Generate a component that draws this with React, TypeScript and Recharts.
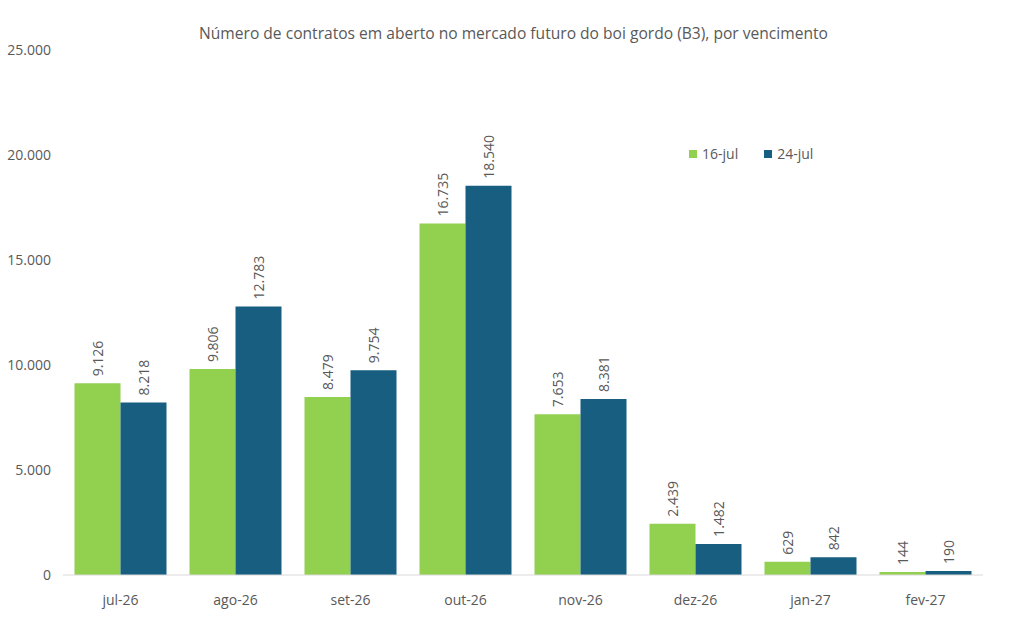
import { Bar, BarChart, LabelList, XAxis, YAxis } from "recharts";

const vencimentos = ["jul-26", "ago-26", "set-26", "out-26", "nov-26", "dez-26", "jan-27", "fev-27"];
const jul16 = [9126, 9806, 8479, 16735, 7653, 2439, 629, 144];
const jul24 = [8218, 12783, 9754, 18540, 8381, 1482, 842, 190];
const yTicks = [0, 5000, 10000, 15000, 20000, 25000];
const seriesNames = ["16-jul", "24-jul"];

const data = vencimentos.map((v, i) => ({ venc: v, a: jul16[i], b: jul24[i] }));

const GREEN = "#92d050";
const BLUE = "#175e80";
const TEXT = "#595959";
const FONT = "'Open Sans', 'Liberation Sans', sans-serif";

const fmt = (v: number) => String(Math.round(v)).replace(/\B(?=(\d{3})+(?!\d))/g, ".");

function VLabel(props: any) {
  const { x, y, width, value } = props;
  const cx = x + width / 2;
  const ty = y - 7;
  return (
    <text
      x={cx}
      y={ty}
      transform={`rotate(-90 ${cx} ${ty})`}
      textAnchor="start"
      dominantBaseline="central"
      fill={TEXT}
      fontSize={14}
      fontFamily={FONT}
    >
      {fmt(value)}
    </text>
  );
}

export default function App() {
  const colors = [GREEN, BLUE];
  return (
    <div style={{ position: "absolute", left: 0, top: 0, width: 1011, height: 629, background: "#fff" }}>
      <div
        style={{
          position: "absolute",
          top: 22,
          left: 0,
          width: 1027,
          textAlign: "center",
          fontFamily: FONT,
          fontSize: 15.6,
          color: TEXT,
        }}
      >
        Número de contratos em aberto no mercado futuro do boi gordo (B3), por vencimento
      </div>
      {/* legend */}
      <div
        style={{
          position: "absolute",
          top: 144,
          left: 689,
          display: "flex",
          gap: 26,
          fontFamily: FONT,
          fontSize: 14,
          color: TEXT,
          zIndex: 2,
        }}
      >
        {seriesNames.map((n, i) => (
          <span key={n} style={{ display: "flex", alignItems: "center" }}>
            <span style={{ width: 8, height: 8, background: colors[i], marginRight: 5, display: "inline-block" }} />
            {n}
          </span>
        ))}
      </div>
      <BarChart
        width={1011}
        height={629}
        data={data}
        margin={{ top: 50, right: 28, bottom: 24, left: 3 }}
        barGap={0}
        barCategoryGap="10%"
      >
        <XAxis
          dataKey="venc"
          height={30}
          axisLine={{ stroke: "#d9d9d9" }}
          tickLine={false}
          tick={{ fill: TEXT, fontSize: 14, fontFamily: FONT }}
          tickMargin={14}
        />
        <YAxis
          width={60}
          domain={[0, 25000]}
          ticks={yTicks}
          axisLine={false}
          tickLine={false}
          tickSize={0}
          tickMargin={12}
          tickFormatter={fmt}
          tick={{ fill: TEXT, fontSize: 14, fontFamily: FONT }}
        />
        <Bar dataKey="a" name={seriesNames[0]} fill={GREEN} isAnimationActive={false}>
          <LabelList dataKey="a" content={VLabel} />
        </Bar>
        <Bar dataKey="b" name={seriesNames[1]} fill={BLUE} isAnimationActive={false}>
          <LabelList dataKey="b" content={VLabel} />
        </Bar>
      </BarChart>
    </div>
  );
}
